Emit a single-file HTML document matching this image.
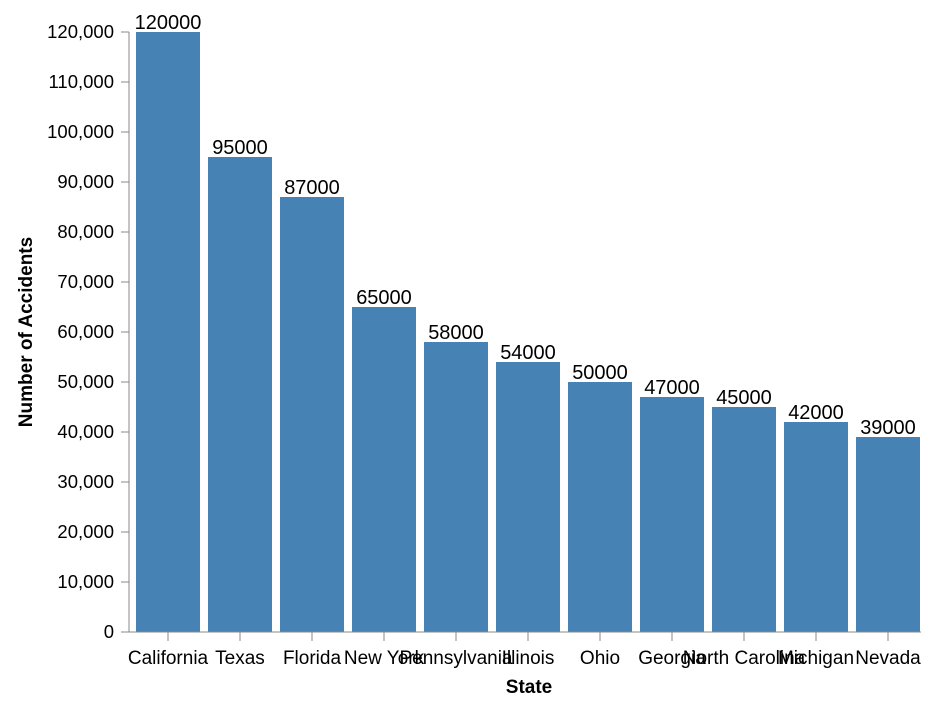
<!DOCTYPE html>
<html><head><meta charset="utf-8"><style>
body{margin:0;background:#fff;width:938px;height:706px;overflow:hidden}
text{font-family:"Liberation Sans",Arial,sans-serif}
</style></head><body>
<svg width="938" height="706" id="chart"></svg>
<script>
const categories=["California","Texas","Florida","New York","Pennsylvania","Illinois","Ohio","Georgia","North Carolina","Michigan","Nevada"];
const values=[120000,95000,87000,65000,58000,54000,50000,47000,45000,42000,39000];
const yTicks=[0,10000,20000,30000,40000,50000,60000,70000,80000,90000,100000,110000,120000];
const NS="http://www.w3.org/2000/svg";
const svg=document.getElementById('chart');
const y=v=>632-v/120000*600;
const xStart=129, step=72, bw=64, off=7;
const xc=i=>xStart+off+i*step+bw/2;
function mk(tag,attrs,txt){const e=document.createElementNS(NS,tag);for(const k in attrs)e.setAttribute(k,attrs[k]);if(txt!==undefined)e.textContent=txt;svg.appendChild(e);return e;}
yTicks.forEach(t=>{
  const l=mk('line',{x1:121,x2:129,y1:y(t),y2:y(t),stroke:'#888'});
  
  
  const tx=mk('text',{x:114,y:y(t)+6,'text-anchor':'end','font-size':18.5,fill:'#000'},t.toLocaleString('en-US'));
  
  
});
categories.forEach((c,i)=>{
  const r=mk('rect',{x:xStart+off+i*step,y:y(values[i]),width:bw,height:632-y(values[i]),fill:'#4682b4'});
  
  
  const v=mk('text',{x:xc(i),y:y(values[i])-3,'text-anchor':'middle','font-size':20,fill:'#000'},String(values[i]));
  
  
  const t=mk('line',{x1:xc(i),x2:xc(i),y1:632,y2:641,stroke:'#888'});
  
  
  const tl=mk('text',{x:xc(i),y:664,'text-anchor':'middle','font-size':19,fill:'#000'},c);
  
  
});
const ya=mk('line',{x1:129,x2:129,y1:32,y2:632,stroke:'#888'});


const xa=mk('line',{x1:129,x2:921,y1:632,y2:632,stroke:'#888'});


const xt=mk('text',{x:529,y:693,'text-anchor':'middle','font-size':19,'font-weight':'bold'},'State');


const yt=mk('text',{x:0,y:0,'text-anchor':'middle','font-size':19,'font-weight':'bold',transform:'translate(32,332) rotate(-90)'},'Number of Accidents');


</script>
</body></html>
